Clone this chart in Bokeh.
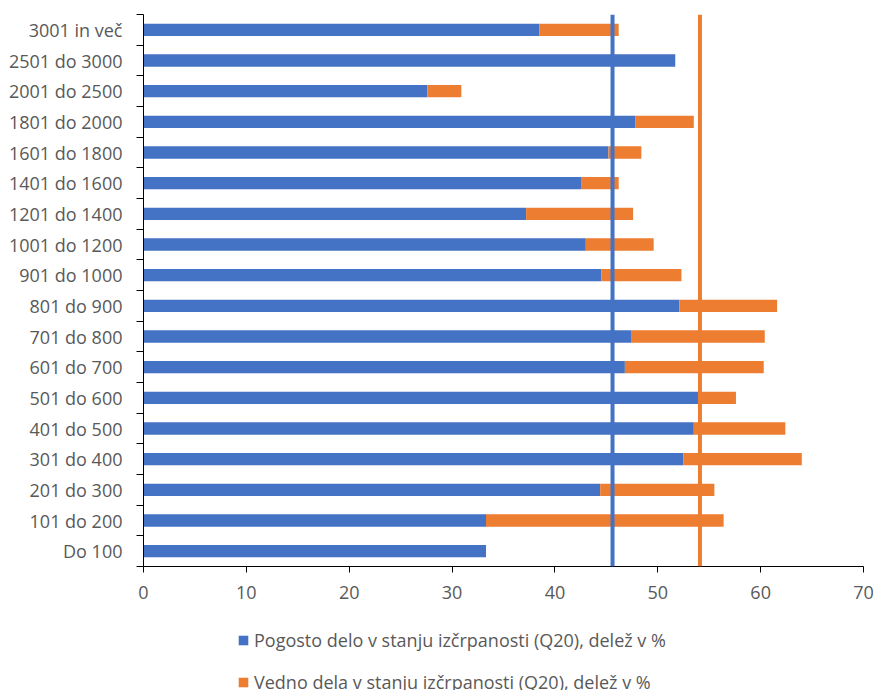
from bokeh.plotting import figure
from bokeh.layouts import column
from bokeh.models import FixedTicker, Legend, LegendItem, Span, ColumnDataSource, Range1d
from bokeh.embed import file_html
from bokeh.resources import INLINE

categories = ["Do 100", "101 do 200", "201 do 300", "301 do 400", "401 do 500",
              "501 do 600", "601 do 700", "701 do 800", "801 do 900", "901 do 1000",
              "1001 do 1200", "1201 do 1400", "1401 do 1600", "1601 do 1800",
              "1801 do 2000", "2001 do 2500", "2501 do 3000", "3001 in več"]
pogosto = [33.3, 33.3, 44.4, 52.5, 53.5, 54.0, 46.8, 47.4, 52.1, 44.5,
           43.0, 37.2, 42.6, 45.2, 47.8, 27.6, 51.7, 38.5]
vedno = [0.0, 23.1, 11.1, 11.5, 8.9, 3.6, 13.5, 13.0, 9.5, 7.8,
         6.6, 10.4, 3.6, 3.2, 5.7, 3.3, 0.0, 7.7]
avg_pogosto = 45.6
avg_vedno = 54.1
x_ticks = [0, 10, 20, 30, 40, 50, 60, 70]
series_labels = ["Pogosto delo v stanju izčrpanosti (Q20), delež v %",
                 "Vedno dela v stanju izčrpanosti (Q20), delež v %"]

BLUE = "#4472C4"
ORANGE = "#ED7D31"
GREY = "#595959"
FONT = "Open Sans"

ypos = [i + 0.5 for i in range(len(categories))]
src = ColumnDataSource(dict(y=ypos, pogosto=pogosto, vedno=vedno))

p = figure(width=876, height=612, output_backend="svg", toolbar_location=None,
           x_range=Range1d(0, 70), y_range=Range1d(0, len(categories)),
           min_border_left=143, min_border_right=13, min_border_top=14,
           min_border_bottom=46)
p.outline_line_color = None
p.grid.visible = False

rs = p.hbar_stack(["pogosto", "vedno"], y="y", height=0.4, color=[BLUE, ORANGE],
                  line_color=None, source=src)

p.add_layout(Span(location=avg_pogosto, dimension="height", line_color=BLUE, line_width=4))
p.add_layout(Span(location=avg_vedno, dimension="height", line_color=ORANGE, line_width=4))

xa = p.xaxis[0]
xa.ticker = FixedTicker(ticks=x_ticks, minor_ticks=[])
xa.axis_line_color = "black"
xa.major_tick_line_color = "black"
xa.major_tick_out = 6
xa.major_tick_in = 0
xa.major_label_text_font = FONT
xa.major_label_text_font_size = "18px"
xa.major_label_text_color = GREY
xa.major_label_standoff = 13

ya = p.yaxis[0]
ya.ticker = FixedTicker(ticks=ypos, minor_ticks=list(range(len(categories) + 1)))
ya.major_label_overrides = {y: c for y, c in zip(ypos, categories)}
ya.axis_line_color = "black"
ya.major_tick_out = 0
ya.major_tick_in = 0
ya.minor_tick_out = 7
ya.minor_tick_in = 0
ya.minor_tick_line_color = "black"
ya.major_label_text_font = FONT
ya.major_label_text_font_size = "18px"
ya.major_label_text_color = GREY
ya.major_label_standoff = 14

# legend panel below the chart: same series with zero bar height, so only the legend shows
lg = figure(width=876, height=78, output_backend="svg", toolbar_location=None,
            x_range=Range1d(0, 70), y_range=Range1d(0, len(categories)),
            min_border=0, min_border_left=0, min_border_right=0,
            min_border_top=0, min_border_bottom=0)
lg.outline_line_color = None
lg.axis.visible = False
lg.grid.visible = False
lrs = lg.hbar_stack(["pogosto", "vedno"], y="y", height=0, color=[BLUE, ORANGE],
                    line_color=None, source=src)

legend = Legend(items=[
    LegendItem(label=series_labels[0], renderers=[lrs[0]]),
    LegendItem(label=series_labels[1], renderers=[lrs[1]]),
], location=(94, -4), orientation="vertical")
legend.border_line_color = None
legend.background_fill_alpha = 0
legend.glyph_width = 12
legend.glyph_height = 12
legend.label_height = 20
legend.spacing = 18
legend.padding = 0
legend.margin = 0
legend.label_standoff = 5
legend.label_text_font = FONT
legend.label_text_font_size = "18px"
legend.label_text_color = GREY
lg.add_layout(legend, "center")

open("out.html", "w").write(file_html(column(p, lg, spacing=0), INLINE))
